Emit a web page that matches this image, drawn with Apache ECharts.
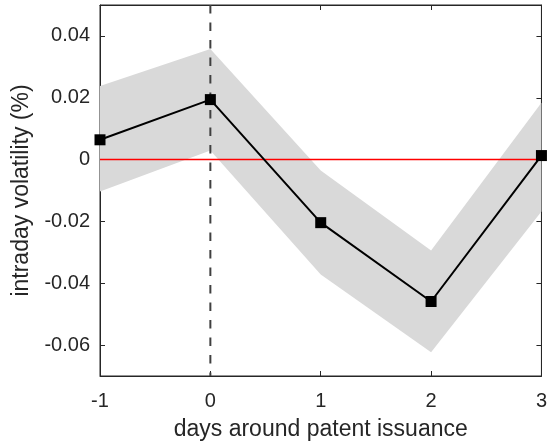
<!DOCTYPE html>
<html>
<head>
<meta charset="utf-8">
<script src="https://cdn.jsdelivr.net/npm/echarts@6/dist/echarts.min.js"></script>
<style>
  html, body { margin: 0; padding: 0; background: #fff; }
  #myChart { width: 550px; height: 446px; }
</style>
</head>
<body>
<div id="myChart"></div>
<script>
// days around issuance and the estimates
var days = [-1, 0, 1, 2, 3]
var meanVol = [0.0064, 0.0194, -0.0204, -0.0459, 0.0013]
var upperVol = [0.0238, 0.0358, -0.0035, -0.0294, 0.0184]
var lowerVol = [-0.0103, 0.0029, -0.0372, -0.0623, -0.0168]
var xTicks = [-1, 0, 1, 2, 3]
var yTicks = [-0.06, -0.04, -0.02, 0, 0.02, 0.04]

var axisColor = '#262626'
var fontFam = '"Liberation Sans", Arial, sans-serif'

var myChart = echarts.init(document.getElementById('myChart'), null, { renderer: 'canvas' })

var meanData = days.map(function (d, i) { return [d, meanVol[i]] })
var bandData = days.map(function (d, i) { return [d, lowerVol[i], upperVol[i]] })

function fmtY (v) {
  if (Math.abs(v) < 1e-9) return '0'
  return v.toFixed(2)
}

myChart.setOption({
  animation: false,
  backgroundColor: '#fff',
  grid: {
    left: 100,
    right: 3,
    top: 5,
    bottom: 69,
    show: true,
    borderColor: axisColor,
    borderWidth: 1
  },
  xAxis: [
    {
      type: 'value',
      min: -1,
      max: 3,
      interval: 1,
      name: 'days around patent issuance',
      nameLocation: 'middle',
      nameGap: 42,
      nameTextStyle: { color: axisColor, fontSize: 23, fontFamily: fontFam },
      axisLine: { show: true, onZero: false, lineStyle: { color: axisColor, width: 1 } },
      axisTick: { show: true, inside: true, length: 5, lineStyle: { color: axisColor }, customValues: xTicks },
      axisLabel: {
        margin: 15,
        color: axisColor,
        fontSize: 20,
        fontFamily: fontFam,
        customValues: xTicks,
        formatter: function (v) { return String(v) }
      },
      splitLine: { show: false }
    },
    {
      type: 'value',
      position: 'top',
      min: -1,
      max: 3,
      interval: 1,
      axisLine: { show: true, onZero: false, lineStyle: { color: axisColor, width: 1 } },
      axisTick: { show: true, inside: true, length: 5, lineStyle: { color: axisColor }, customValues: xTicks },
      axisLabel: { show: false },
      splitLine: { show: false }
    }
  ],
  yAxis: [
    {
      type: 'value',
      min: -0.07,
      max: 0.05,
      interval: 0.01,
      name: 'intraday volatility (%)',
      nameLocation: 'middle',
      nameGap: 63,
      nameRotate: 90,
      nameTextStyle: { color: axisColor, fontSize: 23, fontFamily: fontFam },
      axisLine: { show: true, onZero: false, lineStyle: { color: axisColor, width: 1 } },
      axisTick: { show: true, inside: true, length: 5, lineStyle: { color: axisColor }, customValues: yTicks },
      axisLabel: {
        margin: 10,
        color: axisColor,
        fontSize: 20,
        fontFamily: fontFam,
        customValues: yTicks,
        formatter: fmtY
      },
      splitLine: { show: false }
    },
    {
      type: 'value',
      position: 'right',
      min: -0.07,
      max: 0.05,
      interval: 0.01,
      axisLine: { show: true, onZero: false, lineStyle: { color: axisColor, width: 1 } },
      axisTick: { show: true, inside: true, length: 5, lineStyle: { color: axisColor }, customValues: yTicks },
      axisLabel: { show: false },
      splitLine: { show: false }
    }
  ],
  series: [
    {
      // confidence band
      type: 'custom',
      xAxisIndex: 0,
      yAxisIndex: 0,
      data: bandData,
      silent: true,
      z: 1,
      renderItem: function (params, api) {
        if (params.dataIndex !== 0) return
        var top = bandData.map(function (d) { return api.coord([d[0], d[2]]) })
        var bot = bandData.map(function (d) { return api.coord([d[0], d[1]]) }).reverse()
        return {
          type: 'polygon',
          shape: { points: top.concat(bot) },
          style: { fill: '#d9d9d9', stroke: null }
        }
      }
    },
    {
      // zero line
      type: 'line',
      data: [[-1, 0], [3, 0]],
      symbol: 'none',
      silent: true,
      z: 2,
      lineStyle: { color: '#ff0000', width: 1.5 }
    },
    {
      // issuance day marker
      type: 'line',
      data: [[0, 0.05], [0, -0.07]],
      symbol: 'none',
      silent: true,
      z: 3,
      lineStyle: { color: '#404040', width: 2, type: [8.5, 9] }
    },
    {
      type: 'line',
      data: meanData,
      symbol: 'rect',
      symbolSize: 11,
      z: 4,
      clip: false,
      itemStyle: { color: '#000' },
      lineStyle: { color: '#000', width: 2 }
    }
  ]
})
</script>
</body>
</html>
